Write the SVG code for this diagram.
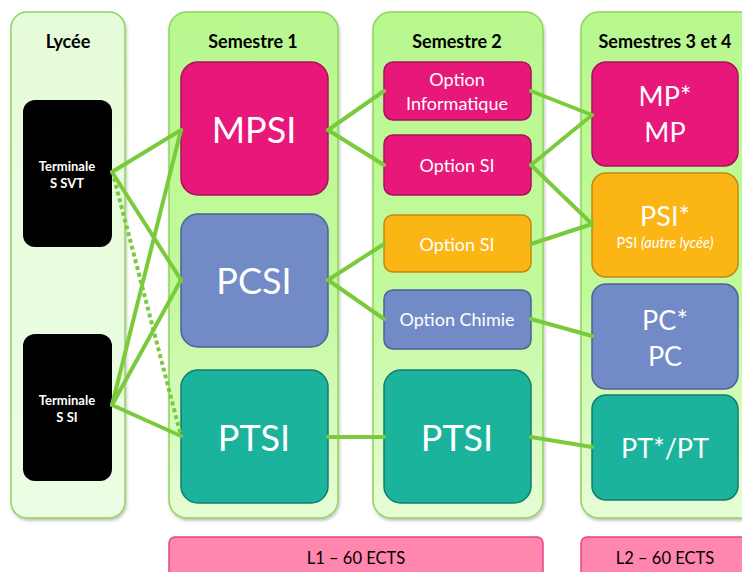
<svg xmlns="http://www.w3.org/2000/svg" width="742" height="572" viewBox="0 0 742 572">
<defs>
<linearGradient id="colG" x1="0" y1="0" x2="0" y2="1">
<stop offset="0" stop-color="#b8f88f"/>
<stop offset="0.55" stop-color="#c2f99c"/>
<stop offset="1" stop-color="#e6fdd6"/>
</linearGradient>
<linearGradient id="lycG" x1="0" y1="0" x2="0" y2="1">
<stop offset="0" stop-color="#e6fbd9"/>
<stop offset="1" stop-color="#edfde3"/>
</linearGradient>
<filter id="sh" x="-10%" y="-10%" width="120%" height="120%">
<feDropShadow dx="1" dy="2" stdDeviation="1.5" flood-color="#000" flood-opacity="0.25"/>
</filter>
</defs>
<style>
.col{fill:url(#colG);stroke:#8ed45c;stroke-width:1.5}
.lyc{fill:url(#lycG);stroke:#8ed45c;stroke-width:1.5}
.title{font-family:Lato,"Noto Sans",sans-serif;font-weight:bold;font-size:18px;fill:#000;text-anchor:middle}
.term{fill:#000}
.termt{font-family:Lato,"Noto Sans",sans-serif;font-weight:bold;font-size:13px;fill:#fff;text-anchor:middle}
.pink{fill:#e8177a;stroke:#a8125a;stroke-width:1.5}
.blue{fill:#728ac6;stroke:#4e6298;stroke-width:1.5}
.teal{fill:#1bb39c;stroke:#127d6d;stroke-width:1.5}
.orange{fill:#fbb515;stroke:#c18a10;stroke-width:1.5}
.big{font-family:Lato,"Noto Sans",sans-serif;font-size:36px;fill:#fff;text-anchor:middle}
.mid{font-family:Lato,"Noto Sans",sans-serif;font-size:27px;fill:#fff;text-anchor:middle}
.opt{font-family:Lato,"Noto Sans",sans-serif;font-size:18px;fill:#fff;text-anchor:middle}
.sm{font-family:Lato,"Noto Sans",sans-serif;font-size:14.5px;fill:#fff;text-anchor:middle}
.bar{fill:#ff86ae;stroke:#e8408a;stroke-width:1.5}
.bart{font-family:Lato,"Noto Sans",sans-serif;font-size:16.5px;fill:#000;text-anchor:middle}
.ln{stroke:#7acb3c;stroke-width:4;fill:none;stroke-linecap:round}
.dot{stroke:#7acb3c;stroke-width:4;fill:none;stroke-dasharray:4 3}
</style>
<g id="col-lycee">
<rect class="lyc" x="11" y="12" width="114" height="506" rx="16" filter="url(#sh)"/>
<text class="title" x="68" y="48">Lycée</text>
</g>
<g id="col-s1">
<rect class="col" x="169" y="12" width="169" height="506" rx="18" filter="url(#sh)"/>
<text class="title" x="253" y="48">Semestre 1</text>
</g>
<g id="col-s2">
<rect class="col" x="373" y="12" width="170" height="506" rx="18" filter="url(#sh)"/>
<text class="title" x="457" y="48">Semestre 2</text>
</g>
<g id="col-s34">
<rect class="col" x="581" y="12" width="180" height="506" rx="18" filter="url(#sh)"/>
<text class="title" x="665" y="48">Semestres 3 et 4</text>
</g>
<g id="term-svt">
<rect class="term" x="23" y="100" width="89" height="147" rx="12"/>
<text class="termt" x="67" y="171">Terminale</text>
<text class="termt" x="67" y="188">S SVT</text>
</g>
<g id="term-si">
<rect class="term" x="23" y="334" width="89" height="147" rx="12"/>
<text class="termt" x="67" y="405">Terminale</text>
<text class="termt" x="67" y="422">S SI</text>
</g>
<g id="mpsi">
<rect class="pink" x="181" y="62" width="147" height="133" rx="17"/>
<text class="big" x="254" y="143">MPSI</text>
</g>
<g id="pcsi">
<rect class="blue" x="181" y="214" width="147" height="133" rx="17"/>
<text class="big" x="254" y="294">PCSI</text>
</g>
<g id="ptsi1">
<rect class="teal" x="181" y="370" width="147" height="133" rx="17"/>
<text class="big" x="254" y="451">PTSI</text>
</g>
<g id="opt-info">
<rect class="pink" x="384" y="62" width="147" height="58" rx="9"/>
<text class="opt" x="457" y="86">Option</text>
<text class="opt" x="457" y="110">Informatique</text>
</g>
<g id="opt-si-mp">
<rect class="pink" x="384" y="135" width="147" height="60" rx="9"/>
<text class="opt" x="457" y="172">Option SI</text>
</g>
<g id="opt-si-pc">
<rect class="orange" x="384" y="215" width="147" height="57" rx="9"/>
<text class="opt" x="457" y="251">Option SI</text>
</g>
<g id="opt-chimie">
<rect class="blue" x="384" y="290" width="147" height="59" rx="9"/>
<text class="opt" x="457" y="326">Option Chimie</text>
</g>
<g id="ptsi2">
<rect class="teal" x="384" y="370" width="147" height="133" rx="17"/>
<text class="big" x="457" y="451">PTSI</text>
</g>
<g id="mp">
<rect class="pink" x="592" y="62" width="146" height="104" rx="14"/>
<text class="mid" x="665" y="106">MP*</text>
<text class="mid" x="665" y="142">MP</text>
</g>
<g id="psi">
<rect class="orange" x="592" y="173" width="146" height="104" rx="14"/>
<text class="mid" x="665" y="226">PSI*</text>
<text class="sm" x="665" y="248">PSI <tspan font-style="italic">(autre lycée)</tspan></text>
</g>
<g id="pc">
<rect class="blue" x="592" y="284" width="146" height="105" rx="14"/>
<text class="mid" x="665" y="330">PC*</text>
<text class="mid" x="665" y="366">PC</text>
</g>
<g id="pt">
<rect class="teal" x="592" y="395" width="146" height="105" rx="14"/>
<text class="mid" x="665" y="458">PT*/PT</text>
</g>
<g id="bar-l1">
<rect class="bar" x="169" y="537" width="374" height="45" rx="6"/>
<text class="bart" x="356" y="564">L1 – 60 ECTS</text>
</g>
<g id="bar-l2">
<rect class="bar" x="581" y="537" width="180" height="45" rx="6"/>
<text class="bart" x="665" y="564">L2 – 60 ECTS</text>
</g>
<g id="connectors">
<line class="ln" x1="112" y1="172" x2="181" y2="130"/>
<line class="ln" x1="112" y1="172" x2="181" y2="280"/>
<line class="dot" x1="114" y1="178" x2="181" y2="436"/>
<line class="ln" x1="112" y1="405" x2="181" y2="130"/>
<line class="ln" x1="112" y1="405" x2="181" y2="280"/>
<line class="ln" x1="112" y1="405" x2="181" y2="436"/>
<line class="ln" x1="328" y1="130" x2="384" y2="91"/>
<line class="ln" x1="328" y1="130" x2="384" y2="165"/>
<line class="ln" x1="328" y1="280" x2="384" y2="244"/>
<line class="ln" x1="328" y1="280" x2="384" y2="319"/>
<line class="ln" x1="328" y1="437" x2="384" y2="437"/>
<line class="ln" x1="531" y1="91" x2="592" y2="115"/>
<line class="ln" x1="531" y1="165" x2="592" y2="115"/>
<line class="ln" x1="531" y1="165" x2="592" y2="224"/>
<line class="ln" x1="531" y1="244" x2="592" y2="224"/>
<line class="ln" x1="531" y1="319" x2="592" y2="336"/>
<line class="ln" x1="531" y1="437" x2="592" y2="447"/>
</g>
</svg>
